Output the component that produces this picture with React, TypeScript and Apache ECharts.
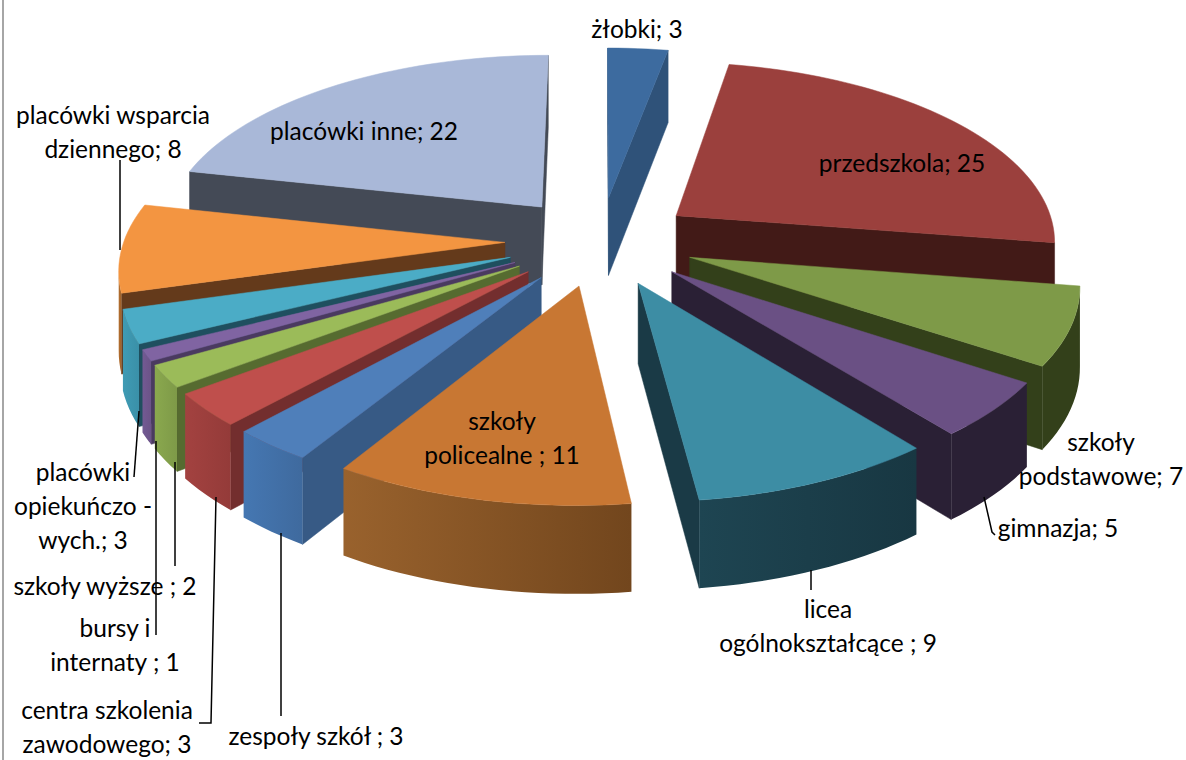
import React, { useEffect, useRef } from "react";
import * as echarts from "echarts";

// Facility types, clockwise from twelve o'clock.
const categories = [
  "żłobki", "przedszkola", "szkoły\npodstawowe", "gimnazja", "licea\nogólnokształcące ",
  "szkoły\npolicealne ", "zespoły szkół ", "centra szkolenia\nzawodowego", "szkoły wyższe ",
  "bursy i\ninternaty ", "placówki\nopiekuńczo -\nwych.", "placówki wsparcia\ndziennego", "placówki inne",
];
const values = [3, 25, 7, 5, 9, 11, 3, 3, 2, 1, 3, 8, 22];

// Face colours per slice: top, radial walls, outer rim (gradient left to right).
const topColors = ["#3D6B9F", "#9B403D", "#7E9A48", "#6A5084", "#3D8DA4", "#C87733", "#4F7FBA", "#BF4F4C", "#9BBB59", "#8064A2", "#4BACC6", "#F39541", "#A9B8D8"];
const wallColors = ["#2F5279", "#421A17", "#33401A", "#2A2035", "#1A3A46", "#6E421C", "#375A85", "#732E2E", "#566B30", "#4A3A60", "#1F4F5F", "#643A1B", "#444A56"];
const rimLeft = ["#2F5279", "#421A17", "#33401A", "#2A2035", "#1E4552", "#99622D", "#4577B2", "#A34240", "#8AA84E", "#735A93", "#3F9BB4", "#B56F2E", "#444A56"];
const rimRight = ["#2F5279", "#421A17", "#33401A", "#2A2035", "#183742", "#72461D", "#3F6A9E", "#943B39", "#7E9A48", "#6B5388", "#3A90A8", "#9A5F2B", "#444A56"];

// Text blocks and their leader lines, in slice order.
const labelAnchors: [number, number][] = [
  [637, 28], [902, 162], [1101, 458], [1058, 527], [828, 625], [502, 437], [316, 735],
  [107, 726], [105, 585], [115, 644], [83, 505], [113, 131], [364, 130],
];
const leaderLines: [number, number][][] = [
  [[120, 160], [120, 250]],
  [[134, 477], [139, 411]],
  [[156, 441], [156, 635]],
  [[175, 462], [175, 566]],
  [[216, 497], [211, 723], [199, 723]],
  [[281, 533], [281, 716]],
  [[811, 570], [811, 590]],
  [[984, 497], [992, 532], [995, 535]],
];

// Projection of the exploded, tilted disc onto the page.
const CX = 600;
const CY = 241;
const RADIUS = 381;
const EXPLODE = 95;
const CAMERA = 3000;
const TILT = 0.47;

type Pt = [number, number];

function project(x: number, y: number, lower: boolean): Pt {
  const s = CAMERA / (CAMERA + y);
  const thickness = lower ? 29 + 50 * s : 0;
  return [CX + x * s, CY - y * TILT * s + thickness];
}

function sliceAngles(i: number): [number, number] {
  const total = values.reduce((a, b) => a + b, 0);
  const before = values.slice(0, i).reduce((a, b) => a + b, 0);
  return [(before / total) * 2 * Math.PI, ((before + values[i]) / total) * 2 * Math.PI];
}

function signedArea(p: Pt[]): number {
  let sum = 0;
  p.forEach((a, k) => {
    const b = p[(k + 1) % p.length];
    sum += a[0] * b[1] - b[0] * a[1];
  });
  return sum;
}

function renderSlice(_params: any, api: any) {
  const i = api.value(0) as number;
  const [a0, a1] = sliceAngles(i);
  const mid = (a0 + a1) / 2;
  const ox = EXPLODE * Math.sin(mid);
  const oy = EXPLODE * Math.cos(mid);
  const steps = Math.max(4, Math.round((a1 - a0) / 0.03));
  const arc: [number, number][] = [];
  for (let k = 0; k <= steps; k++) {
    const a = a0 + ((a1 - a0) * k) / steps;
    arc.push([ox + RADIUS * Math.sin(a), oy + RADIUS * Math.cos(a)]);
  }
  const upper = (q: [number, number]) => project(q[0], q[1], false);
  const lower = (q: [number, number]) => project(q[0], q[1], true);
  const apex: [number, number] = [ox, oy];
  const children: any[] = [];
  const addWall = (from: [number, number], to: [number, number]) => {
    const quad = [upper(from), upper(to), lower(to), lower(from)];
    if (signedArea(quad) < 0) {
      children.push({
        type: "polygon",
        shape: { points: quad },
        style: { fill: wallColors[i], stroke: wallColors[i], lineWidth: 0.5 },
      });
    }
  };
  addWall(apex, arc[0]);
  addWall(arc[arc.length - 1], apex);

  // Rim: the run of arc segments that faces the viewer becomes one polygon.
  let run: [number, number][] = [];
  const flush = () => {
    if (run.length > 1) {
      const pts = [...run.map(upper), ...run.slice().reverse().map(lower)];
      children.push({
        type: "polygon",
        shape: { points: pts },
        style: {
          fill: new echarts.graphic.LinearGradient(0, 0, 1, 0, [
            { offset: 0, color: rimLeft[i] },
            { offset: 1, color: rimRight[i] },
          ]),
        },
      });
    }
    run = [];
  };
  for (let k = 0; k < steps; k++) {
    const quad = [upper(arc[k]), upper(arc[k + 1]), lower(arc[k + 1]), lower(arc[k])];
    if (signedArea(quad) < 0) {
      if (!run.length) run.push(arc[k]);
      run.push(arc[k + 1]);
    } else {
      flush();
    }
  }
  flush();

  children.push({
    type: "polygon",
    shape: { points: [upper(apex), ...arc.map(upper)] },
    style: { fill: topColors[i], stroke: topColors[i], lineWidth: 0.5 },
  });
  return { type: "group", children };
}

// Far slices are painted first so that nearer ones overlap them.
const paintOrder = values
  .map((_, i) => {
    const [a0, a1] = sliceAngles(i);
    return { i, depth: Math.cos((a0 + a1) / 2) };
  })
  .sort((p, q) => q.depth - p.depth)
  .map((p) => [p.i, values[p.i]]);

export default function App() {
  const ref = useRef<HTMLDivElement>(null);
  useEffect(() => {
    if (!ref.current) return;
    const chart = echarts.init(ref.current, undefined, { renderer: "svg" });
    const leaders = leaderLines.map((points) => ({
      type: "polyline",
      z: 20,
      shape: { points },
      style: { stroke: "#000", lineWidth: 1.5, fill: "none" },
    }));
    const texts = categories.map((name, i) => ({
      type: "text",
      z: 30,
      x: labelAnchors[i][0],
      y: labelAnchors[i][1],
      style: {
        text: `${name}; ${values[i]}`,
        font: '24.5px Lato, "Noto Sans", sans-serif',
        lineHeight: 34,
        fill: "#000",
        align: "center",
        verticalAlign: "middle",
      },
    }));
    chart.setOption({
      animation: false,
      backgroundColor: "#fff",
      series: [
        {
          type: "custom",
          coordinateSystem: "none",
          silent: true,
          data: paintOrder,
          renderItem: renderSlice,
        },
      ],
      graphic: [
        {
          type: "line",
          z: 40,
          shape: { x1: 3, y1: 0, x2: 3, y2: 760 },
          style: { stroke: "#A6A6A6", lineWidth: 2 },
        },
        ...leaders,
        ...texts,
      ],
    });
    return () => chart.dispose();
  }, []);
  return <div ref={ref} style={{ position: "absolute", left: 0, top: 0, width: 1186, height: 760 }} />;
}
